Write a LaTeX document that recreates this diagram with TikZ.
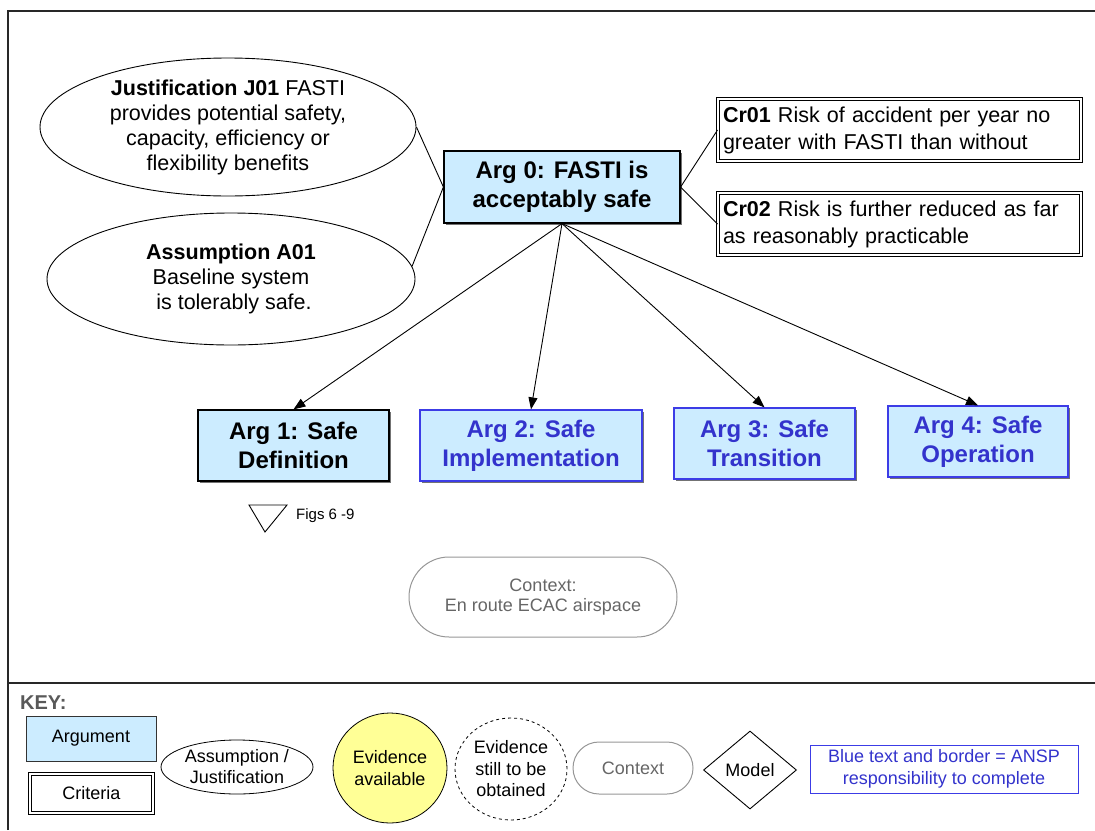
\documentclass[tikz,border=0pt]{standalone}
\usepackage{fontspec}
\setmainfont{Liberation Sans}
\usetikzlibrary{shapes.geometric,shapes.misc,arrows.meta,shadows}
\definecolor{argfill}{RGB}{204,236,255}
\definecolor{ansp}{RGB}{51,51,204}
\definecolor{anspline}{RGB}{60,60,230}
\definecolor{ctxgray}{RGB}{150,150,150}
\definecolor{ctxtext}{RGB}{102,102,102}
\definecolor{evyellow}{RGB}{255,255,150}
\definecolor{keygray}{RGB}{89,89,89}
\definecolor{framegray}{RGB}{40,40,40}
\begin{document}
\begin{tikzpicture}[x=1pt,y=-1pt,
  argbox/.style={rectangle, draw=black, line width=1.2pt, fill=argfill, align=center, inner sep=0pt,
    font=\fontsize{24}{29}\selectfont\bfseries,
    drop shadow={shadow xshift=1.5pt, shadow yshift=-1.5pt, fill=black!55, opacity=1}},
  anspbox/.style={argbox, draw=anspline, text=ansp},
  assume/.style={ellipse, draw=black, line width=0.9pt, align=center, inner sep=0pt,
    font=\fontsize{21.5}{25}\selectfont},
  critbox/.style={rectangle, draw=black, double, double distance=2.5pt, line width=1pt, align=left,
    inner xsep=5pt, inner ysep=0pt, font=\fontsize{21.5}{27}\selectfont},
  ctxbox/.style={rounded rectangle, draw=ctxgray, line width=1pt, text=ctxtext, align=center, inner sep=0pt},
  link/.style={draw=black, line width=0.9pt},
  arrowlink/.style={link, -{Triangle[length=12pt,width=9pt]}},
  keyfont/.style={font=\fontsize{18}{21.5}\selectfont},
  framelines/.style={draw=framegray, line width=1.5pt}
]
\useasboundingbox (0,0) rectangle (1095,830);
% frame
\draw[framelines] (8,830) -- (8,11) -- (1095,11);
\draw[framelines] (8,683) -- (1095,683);

% main nodes
\node[argbox, minimum width=236pt, minimum height=72pt] (arg0) at (562,187) {Arg 0: FASTI is\\acceptably safe};
\node[assume, minimum width=376pt, minimum height=138pt] (j01) at (228,127)
  {\textbf{Justification J01} FASTI\\provides potential safety,\\capacity, efficiency or\\flexibility benefits};
\node[assume, minimum width=368pt, minimum height=132pt] (a01) at (231,279)
  {\textbf{Assumption A01}\\Baseline system\\\ is tolerably safe.};
\node[critbox, text width=353pt, minimum height=62pt] (cr01) at (899.5,130)
  {\textbf{Cr01} Risk of accident per year no\\greater with FASTI than without};
\node[critbox, text width=353pt, minimum height=62pt] (cr02) at (899.5,224)
  {\textbf{Cr02} Risk is further reduced as far\\as reasonably practicable};

\node[argbox, minimum width=191pt, minimum height=71pt] (arg1) at (293.5,445.5) {Arg 1: Safe\\Definition};
\node[anspbox, minimum width=222pt, minimum height=71pt] (arg2) at (531,445.5) {Arg 2: Safe\\Implementation};
\node[anspbox, minimum width=181pt, minimum height=71pt] (arg3) at (764.5,443.5) {Arg 3: Safe\\Transition};
\node[anspbox, minimum width=180pt, minimum height=71pt] (arg4) at (978,441.5) {Arg 4: Safe\\Operation};

% connectors
\draw[link] (arg0.west) -- (j01.east);
\draw[link] (arg0.west) -- (a01.4);
\draw[link] (arg0.east) -- (cr01.west);
\draw[link] (arg0.east) -- (cr02.west);
\draw[arrowlink] (arg0.south) -- (arg1.north);
\draw[arrowlink] (arg0.south) -- (arg2.north);
\draw[arrowlink] (arg0.south) -- (arg3.north);
\draw[arrowlink] (arg0.south) -- (arg4.north);

% figs reference
\draw[link] (249,505) -- (287,505) -- (265,532) -- cycle;
\node[anchor=west, inner sep=0pt, font=\fontsize{15}{18}\selectfont] (figs) at (296,516) {Figs 6 -9};

% context
\node[ctxbox, minimum width=268pt, minimum height=80pt, font=\fontsize{18}{20}\selectfont] (ctx) at (543,597)
  {Context:\\En route ECAC airspace};

% key
\node[anchor=west, inner sep=0pt, text=keygray, font=\fontsize{20}{24}\selectfont\bfseries] (key) at (20,703) {KEY:};
\node[rectangle, draw=black!80, line width=1pt, fill=argfill, minimum width=130pt, minimum height=45pt, inner sep=0pt, keyfont] (karg) at (91,738.5) {Argument};
\node[rectangle, draw=black, double, double distance=2.5pt, line width=0.8pt, minimum width=123pt, minimum height=39pt, inner sep=0pt, keyfont] (kcrit) at (91.5,793.5) {Criteria};
\node[ellipse, draw=black, line width=0.8pt, minimum width=152pt, minimum height=54pt, inner sep=0pt, align=center, font=\fontsize{18}{21}\selectfont] (kass) at (237,767) {Assumption /\\Justification};
\node[ellipse, draw=black, line width=0.8pt, fill=evyellow, minimum width=114pt, minimum height=110pt, inner sep=0pt, align=center, font=\fontsize{18}{22}\selectfont] (kev) at (390,768) {Evidence\\available};
\node[ellipse, draw=black, dashed, line width=0.8pt, minimum width=112pt, minimum height=102pt, inner sep=0pt, align=center, keyfont] (kevd) at (511,769) {Evidence\\still to be\\obtained};
\node[ctxbox, minimum width=120pt, minimum height=52pt, keyfont] (kctx) at (633,768) {Context};
\node[diamond, draw=black, line width=0.9pt, minimum width=93pt, minimum height=78pt, inner sep=0pt, keyfont] (kmodel) at (750,770) {Model};
\node[rectangle, draw=anspline, line width=1pt, text=ansp, minimum width=268pt, minimum height=48pt, inner sep=0pt, align=center, font=\fontsize{18}{22}\selectfont] (kblue) at (944,769)
  {Blue text and border = ANSP\\responsibility to complete};
\end{tikzpicture}
\end{document}
